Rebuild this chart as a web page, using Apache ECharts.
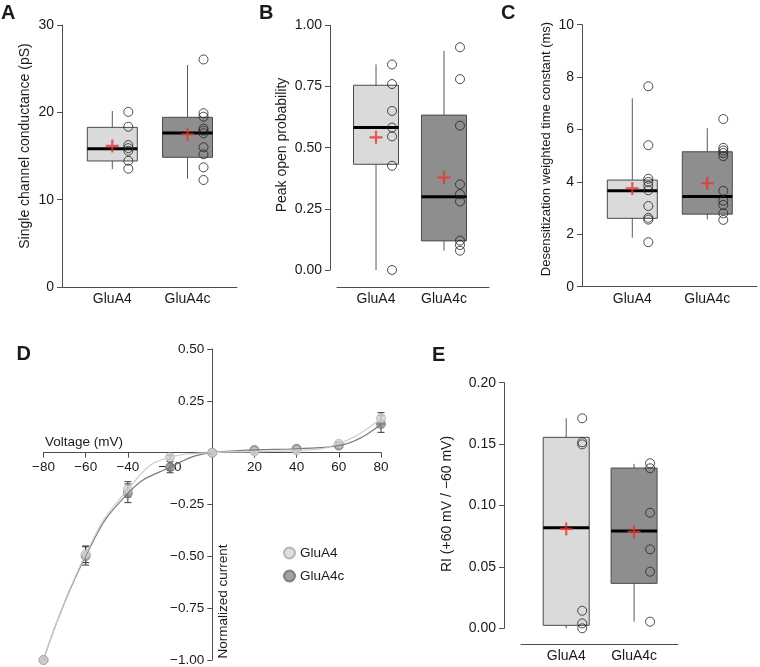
<!DOCTYPE html>
<html>
<head>
<meta charset="utf-8">
<style>
  html, body { margin: 0; padding: 0; background: #fff; }
  #main { width: 760px; height: 667px; }
</style>
<script src="https://cdn.jsdelivr.net/npm/echarts@6/dist/echarts.min.js"></script>
</head>
<body>
<div id="main"></div>
<script>
// groups shown on every box panel
const groups = ['GluA4', 'GluA4c'];

// A: single channel conductance, box stats are [min, q1, median, q3, max]
const condStats = [[13.5, 14.43, 15.84, 18.28, 20.15], [12.4, 14.85, 17.63, 19.43, 25.42]];
const condMeans = [16.15, 17.49];
const condPoints = [
  [20.05, 18.35, 16.25, 15.9, 15.6, 14.45, 13.55],
  [26.05, 19.9, 19.5, 18.15, 17.9, 17.6, 16.0, 15.2, 13.7, 12.25]
];

// B: peak open probability
const popenStats = [[0.0, 0.432, 0.582, 0.755, 0.84], [0.079, 0.119, 0.299, 0.633, 0.896]];
const popenMeans = [0.542, 0.378];
const popenPoints = [
  [0.84, 0.76, 0.65, 0.582, 0.546, 0.426, 0.0],
  [0.91, 0.78, 0.59, 0.35, 0.31, 0.28, 0.12, 0.102, 0.079]
];

// C: desensitization weighted time constant
const desStats = [[1.87, 2.61, 3.66, 4.07, 7.19], [2.57, 2.77, 3.44, 5.15, 6.05]];
const desMeans = [3.75, 3.95];
const desPoints = [
  [7.65, 5.4, 4.12, 4.0, 3.85, 3.68, 3.08, 2.63, 2.56, 1.7],
  [6.4, 5.3, 5.2, 5.1, 4.98, 3.66, 3.28, 3.12, 2.8, 2.55]
];

// D: IV relation
const voltages = [-80, -60, -40, -20, 0, 20, 40, 60, 80];
const ivGluA4 = [-1.0, -0.49, -0.177, -0.022, 0, 0.005, 0.01, 0.043, 0.166];
const ivGluA4c = [-1.0, -0.498, -0.196, -0.07, 0, 0.013, 0.019, 0.034, 0.138];
const semGluA4 = [0, 0.04, 0.037, 0.01, 0, 0.005, 0.005, 0.008, 0.027];
const semGluA4c = [0, 0.044, 0.045, 0.027, 0, 0.005, 0.006, 0.01, 0.04];

// E: rectification index
const riStats = [[0.0, 0.0024, 0.0819, 0.1555, 0.171], [0.0054, 0.0366, 0.0792, 0.1305, 0.1338]];
const riMeans = [0.0809, 0.0787];
const riPoints = [
  [0.171, 0.1515, 0.1498, 0.0143, 0.004, 0.0],
  [0.1344, 0.1303, 0.0941, 0.0643, 0.0461, 0.0054]
];

const font = '"Liberation Sans", Arial, Helvetica, sans-serif';
const axisColor = '#4d4d4d';
const textColor = '#1a1a1a';
const fills = ['#dadada', '#8e8e8e'];
const plusPath = 'path://M0,5H12V7H0Z M5,0H7V12H5Z';

const grids = [];
const xAxes = [];
const yAxes = [];
const series = [];

function boxItem(width) {
  return function (params, api) {
    const x = api.value(0);
    const pMin = api.coord([x, api.value(1)]);
    const pQ1 = api.coord([x, api.value(2)]);
    const pMed = api.coord([x, api.value(3)]);
    const pQ3 = api.coord([x, api.value(4)]);
    const pMax = api.coord([x, api.value(5)]);
    const half = width / 2;
    return {
      type: 'group',
      children: [
        { type: 'line', shape: { x1: pMin[0], y1: pMin[1], x2: pMax[0], y2: pMax[1] },
          style: { stroke: '#5a5a5a', lineWidth: 1 } },
        { type: 'rect', shape: { x: pQ3[0] - half, y: pQ3[1], width: width, height: pQ1[1] - pQ3[1] },
          style: { fill: fills[params.dataIndex], stroke: '#4a4a4a', lineWidth: 1 } },
        { type: 'line', shape: { x1: pMed[0] - half, y1: pMed[1], x2: pMed[0] + half, y2: pMed[1] },
          style: { stroke: '#000', lineWidth: 3 } }
      ]
    };
  };
}

function errItem(params, api) {
  const x = api.value(0);
  const lo = api.coord([x, api.value(1)]);
  const hi = api.coord([x, api.value(2)]);
  const c = 3.5;
  const st = { stroke: '#3a3a3a', lineWidth: 1 };
  return {
    type: 'group',
    children: [
      { type: 'line', shape: { x1: lo[0], y1: lo[1], x2: hi[0], y2: hi[1] }, style: st },
      { type: 'line', shape: { x1: lo[0] - c, y1: lo[1], x2: lo[0] + c, y2: lo[1] }, style: st },
      { type: 'line', shape: { x1: hi[0] - c, y1: hi[1], x2: hi[0] + c, y2: hi[1] }, style: st }
    ]
  };
}

function addBoxPanel(p) {
  const gi = grids.length;
  grids.push(p.grid);
  xAxes.push({
    gridIndex: gi, type: 'value', min: p.xMin, max: p.xMax, offset: p.xOffset || 0,
    axisLine: { onZero: false, lineStyle: { color: axisColor } },
    axisTick: { show: false },
    splitLine: { show: false },
    axisLabel: {
      customValues: [1, 2],
      formatter: v => groups[Math.round(v) - 1] || '',
      color: textColor, fontSize: 14, fontFamily: font, margin: 5
    }
  });
  yAxes.push({
    gridIndex: gi, type: 'value', min: p.yMin, max: p.yMax, interval: p.yStep, offset: p.yOffset || 0,
    axisLine: { show: true, onZero: false, lineStyle: { color: axisColor } },
    axisTick: { show: true, length: 5, lineStyle: { color: axisColor } },
    splitLine: { show: false },
    axisLabel: { formatter: p.fmt, color: textColor, fontSize: 14, fontFamily: font, margin: 8 }
  });
  series.push({
    type: 'custom', xAxisIndex: gi, yAxisIndex: gi, silent: true,
    renderItem: boxItem(p.boxW),
    encode: { x: 0, y: [1, 2, 3, 4, 5] },
    data: p.stats.map((s, k) => [k + 1].concat(s))
  });
  series.push({
    type: 'scatter', xAxisIndex: gi, yAxisIndex: gi, silent: true,
    symbol: 'circle', symbolSize: 9, symbolOffset: [16, 0],
    itemStyle: { color: 'rgba(255,255,255,0)', borderColor: '#222', borderWidth: 1 },
    data: p.points.flatMap((arr, k) => arr.map(v => [k + 1, v]))
  });
  series.push({
    type: 'scatter', xAxisIndex: gi, yAxisIndex: gi, silent: true,
    symbol: plusPath, symbolSize: 13, symbolKeepAspect: true,
    itemStyle: { color: '#e8332a' },
    data: p.means.map((v, k) => [k + 1, v])
  });
}

addBoxPanel({
  grid: { left: 62, top: 25, width: 175, height: 262 },
  xMin: 0.331, xMax: 2.658, boxW: 50,
  yMin: 0, yMax: 30, yStep: 10, fmt: v => String(v),
  stats: condStats, means: condMeans, points: condPoints
});
addBoxPanel({
  grid: { left: 337, top: 25.3, width: 152, height: 244.7 },
  xMin: 0.426, xMax: 2.662, boxW: 45, xOffset: 17, yOffset: 7,
  yMin: 0, yMax: 1, yStep: 0.25, fmt: v => v.toFixed(2),
  stats: popenStats, means: popenMeans, points: popenPoints
});
addBoxPanel({
  grid: { left: 582, top: 24.7, width: 175, height: 262 },
  xMin: 0.329, xMax: 2.663, boxW: 50,
  yMin: 0, yMax: 10, yStep: 2, fmt: v => String(v),
  stats: desStats, means: desMeans, points: desPoints
});

// D panel: axes cross at the origin
const dIdx = grids.length;
const dGrid = { left: 43.5, top: 349, width: 337.5, height: 311 };
grids.push(dGrid);
const minus = s => '\u2212' + s;
xAxes.push({
  gridIndex: dIdx, type: 'value', min: -80, max: 80, interval: 20,
  offset: -dGrid.height / 1.5,
  axisLine: { onZero: false, lineStyle: { color: axisColor } },
  axisTick: { length: 5, lineStyle: { color: axisColor } },
  splitLine: { show: false },
  axisLabel: {
    formatter: v => v === 0 ? '' : (v < 0 ? minus(-v) : String(v)),
    color: textColor, fontSize: 13.5, fontFamily: font, margin: 8
  }
});
yAxes.push({
  gridIndex: dIdx, type: 'value', min: -1, max: 0.5, interval: 0.25,
  offset: -dGrid.width / 2,
  axisLine: { onZero: false, lineStyle: { color: axisColor } },
  axisTick: { length: 5, lineStyle: { color: axisColor } },
  splitLine: { show: false },
  axisLabel: {
    formatter: v => v === 0 ? '' : (v < 0 ? minus((-v).toFixed(2)) : v.toFixed(2)),
    color: textColor, fontSize: 13.5, fontFamily: font, margin: 8
  }
});

const ivSets = [
  { name: 'GluA4c', vals: ivGluA4c, sem: semGluA4c, fill: '#8a8a8a', border: '#6a6a6a', line: '#7a7a7a' },
  { name: 'GluA4', vals: ivGluA4, sem: semGluA4, fill: '#d6d6d6', border: '#a8a8a8', line: '#cccccc' }
];
ivSets.forEach(s => {
  series.push({
    type: 'line', name: s.name + ' fit', xAxisIndex: dIdx, yAxisIndex: dIdx, silent: true,
    smooth: true, showSymbol: false, symbol: 'none',
    lineStyle: { color: s.line, width: 1.2 },
    data: voltages.map((v, k) => [v, s.vals[k]])
  });
});
ivSets.forEach(s => {
  series.push({
    type: 'custom', xAxisIndex: dIdx, yAxisIndex: dIdx, silent: true,
    renderItem: errItem,
    encode: { x: 0, y: [1, 2] },
    data: voltages.map((v, k) => [v, s.vals[k] - s.sem[k], s.vals[k] + s.sem[k]])
      .filter((d, k) => s.sem[k] > 0)
  });
});
ivSets.forEach(s => {
  series.push({
    type: 'scatter', name: s.name, xAxisIndex: dIdx, yAxisIndex: dIdx, silent: true,
    symbol: 'circle', symbolSize: 9,
    itemStyle: { color: s.fill, borderColor: s.border, borderWidth: 0.8 },
    data: voltages.map((v, k) => [v, s.vals[k]])
  });
});

// E panel
addBoxPanel({
  grid: { left: 521, top: 382.7, width: 157, height: 245.6 },
  xMin: 0.334, xMax: 2.647, boxW: 46, xOffset: 16, yOffset: 17,
  yMin: 0, yMax: 0.2, yStep: 0.05, fmt: v => v.toFixed(2),
  stats: riStats, means: riMeans, points: riPoints
});

function label(text, x, y, size, bold) {
  return {
    type: 'text', x: x, y: y,
    style: { text: text, fontSize: size, fontWeight: bold ? 'bold' : 'normal', fontFamily: font,
      fill: textColor, align: 'left', verticalAlign: 'middle' }
  };
}
function vLabel(text, x, y, size) {
  return {
    type: 'text', x: x, y: y, rotation: Math.PI / 2,
    style: { text: text, fontSize: size, fontFamily: font, fill: textColor,
      align: 'center', verticalAlign: 'middle' }
  };
}

const chart = echarts.init(document.getElementById('main'), null, { renderer: 'canvas' });
chart.setOption({
  animation: false,
  backgroundColor: '#fff',
  grid: grids,
  xAxis: xAxes,
  yAxis: yAxes,
  legend: {
    data: ['GluA4', 'GluA4c'], orient: 'vertical', left: 278, top: 541,
    icon: 'circle', itemWidth: 11, itemHeight: 11, itemGap: 9, selectedMode: false,
    textStyle: { fontSize: 13.5, fontFamily: font, color: textColor }
  },
  graphic: [
    label('A', 1, 13, 20, true),
    label('B', 259, 13.5, 20, true),
    label('C', 501, 13, 20, true),
    label('D', 16.5, 354.5, 20, true),
    label('E', 432, 355.5, 20, true),
    vLabel('Single channel conductance (pS)', 25, 146, 14),
    vLabel('Peak open probability', 281.7, 145, 14),
    vLabel('Desensitization weighted time constant (ms)', 546.7, 149, 13),
    vLabel('RI (+60 mV / \u221260 mV)', 446.7, 504, 14),
    label('Voltage (mV)', 45, 442, 13.5, false),
    vLabel('Normalized current', 223, 601.5, 13.5)
  ],
  series: series
});
</script>
</body>
</html>
